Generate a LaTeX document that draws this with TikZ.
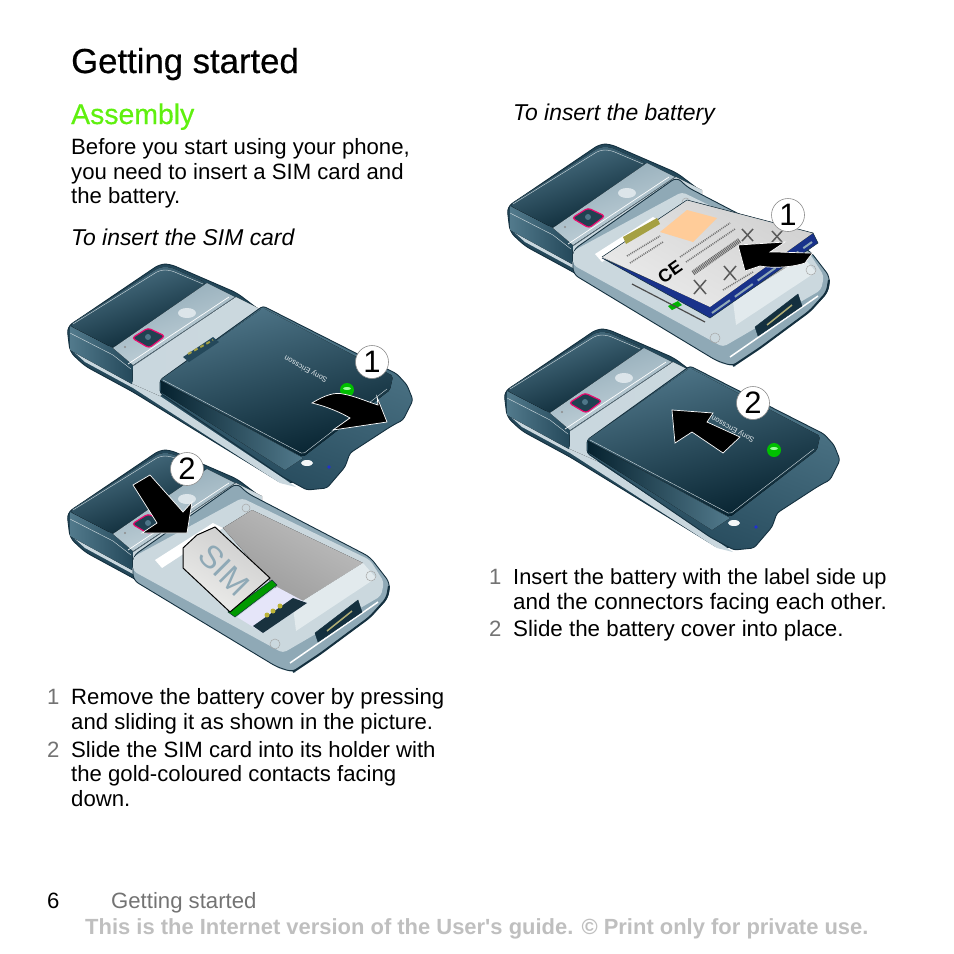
\documentclass[tikz,border=0pt]{standalone}
\usepackage{fontspec}
\setmainfont{Liberation Sans}
\newfontfamily\headfont[FakeBold=0.5]{Liberation Sans}
\newfontfamily\noticefont{Liberation Sans}
\definecolor{paneldark}{HTML}{06222F}
\definecolor{panellight}{HTML}{4F7689}
\definecolor{sidedark}{HTML}{24485A}
\definecolor{sidelight}{HTML}{527A8C}
\definecolor{edgedark}{HTML}{14303F}
\definecolor{bandlight}{HTML}{C9D7DE}
\definecolor{bandmid}{HTML}{8FA9B6}
\definecolor{traysilver}{HTML}{CBD8DE}
\definecolor{assemblygreen}{HTML}{5FF00F}
\tikzset{
  bodytext/.style={anchor=base west,inner sep=0pt,font=\fontsize{22.15}{25}\selectfont},
  steptext/.style={bodytext,text=black!55},
  howtotext/.style={bodytext,font=\fontsize{22.9}{25}\selectfont\itshape},
  numcircle/.style={circle,draw=black!45,fill=white,line width=0.6pt,inner sep=0pt,minimum size=33pt,font=\fontsize{31}{31}\selectfont},
  blackarrow/.style={fill=black,draw=white,line width=0.7pt,line join=miter},
  outline/.style={draw=edgedark,line width=0.9pt},
  stitch/.style={draw=white!75!panellight,line width=0.4pt},
}
\newcommand{\phonehead}[2]{
  \begin{scope}[shift={(#1,#2)}]
    \draw [outline,fill=sidedark,rounded corners=6pt] (67,327)--(160,264)--(170,264)--(237,293)--(262,312)--(262,360)--(305,480)--(283,484)--(133,392)--(85,366)--(70,352)--cycle;
    \fill [bandlight] (74,352)--(133,382)--(160,396)--(283,478)--(296,487)--(280,483)--(133,388)--(85,362)--cycle;
    \fill [left color=bandlight,right color=traysilver] (133,366)--(236,297)--(262,310)--(262,330)--(160,396)--(133,384)--cycle;
    \fill [left color=sidelight,right color=sidedark] (70,326)--(113,348)--(133,365)--(132,384)--(70,350)--cycle;
    \draw [stitch] (70,333)--(113,355)--(131,369);
    \fill [left color=panellight,right color=paneldark,shading angle=20,rounded corners=5pt] (69,325)--(160,267)--(170,267)--(207,283)--(113,348)--cycle;
    \draw [stitch,rounded corners=5pt] (73,324)--(160,270)--(170,270)--(203,284);
    \fill [left color=bandmid,right color=bandlight,shading angle=20] (207,283)--(235,297)--(133,365)--(113,348)--cycle;
    \draw [edgedark!70,line width=0.5pt] (235,297)--(133,366);
    \draw [white,line width=0.7pt] (229,297)--(128,364);
    \fill [white!35!bandlight] (187,313) ellipse [x radius=9,y radius=5];
    \fill [black!45] (125,347) circle [radius=1.2];
    \draw [draw=magenta!70!red,fill=sidedark!90!black,line width=1.2pt,rounded corners=3pt] (132,338)--(148,328)--(165,336)--(149,348)--cycle;
    \fill [panellight] (148,337) circle [radius=3];
  \end{scope}
}
\newcommand{\phonecover}[2]{
  \begin{scope}[shift={(#1,#2)}]
    \draw [outline,left color=sidelight,right color=sidedark,shading angle=-20,rounded corners=3pt] (263,306)--(397,374)--(407,385)--(413,400)--(403,420)--(397,423)--(390,427)--(350,453)--(345,467)--(327,488)--(307,490)--(283,477)--(160,393)--(160,380)--cycle;
    \fill [left color=panellight,right color=paneldark,shading angle=15,rounded corners=2pt] (263,308)--(393,376)--(390,390)--(303,457)--(160,380)--cycle;
    \fill [left color=paneldark,right color=sidelight] (161,381)--(303,458)--(285,470)--(161,392)--cycle;
    \draw [stitch,rounded corners=2pt] (163,380)--(303,454)--(387,389);
    \fill [white!80!bandlight] (307,463) ellipse [x radius=6,y radius=3];
    \fill [blue!60!sidelight] (329,467) circle [radius=1.8];
    \fill [green!75!black] (347,390) circle [radius=7];
    \fill [white!60!green] (347,388.5) ellipse [x radius=4,y radius=1.5];
    \node (logo#1) [rotate=151,text=white!85!panellight,inner sep=0pt,font=\fontsize{7.5}{8}\selectfont] at (306,369) {Sony Ericsson};
  \end{scope}
}
\newcommand{\phonetray}[2]{
  \begin{scope}[shift={(#1,#2)}]
    \draw [outline,fill=bandmid,rounded corners=6pt] (237,297)--(247,307)--(370,371)--(390,397)--(388,412)--(370,431)--(320,468)--(293,486)--(277,481)--(133,394)--(133,370)--cycle;
    \draw [edgedark,line width=2pt,rounded corners=5pt] (389,400)--(387,412)--(370,431)--(320,468)--(293,486);
    \fill [traysilver,rounded corners=4pt] (133,371)--(242,312)--(370,374)--(384,396)--(381,410)--(283,467)--(133,385)--cycle;
    \draw [white,line width=1.5pt] (378,416)--(290,477);
    \fill [left color=black!25,right color=black!40,shading angle=-30] (223,342)--(252,324)--(363,377)--(293,421)--cycle;
    \fill [white!45!traysilver] (293,421)--(363,377)--(376,392)--(296,445)--cycle;
    \fill [white] (155,374)--(213,337)--(223,342)--(162,382)--cycle;
    \draw [black!35,line width=0.5pt] (275,458) circle [radius=5] (371,390) circle [radius=5] (246,322) circle [radius=4];
    \draw [edgedark,fill=edgedark] (315,447)--(358,414)--(362,426)--(318,456)--cycle;
    \draw [yellow!50!black!70!white,line width=1.5pt] (327,445)--(352,425);
  \end{scope}
}
\begin{document}
\begin{tikzpicture}[x=1pt,y=-1pt]
  \useasboundingbox (0,0) rectangle (954,954);

  % page texts, left column
  \node (title) [anchor=base west,inner sep=0pt,font=\fontsize{34.7}{36}\headfont] at (71,73) {Getting started};
  \node (assembly) [anchor=base west,inner sep=0pt,text=assemblygreen,font=\fontsize{28.4}{30}\headfont] at (71,124) {Assembly};
  \node (introa) [bodytext] at (71,154) {Before you start using your phone,};
  \node (introb) [bodytext] at (71,179) {you need to insert a SIM card and};
  \node (introc) [bodytext] at (71,203) {the battery.};
  \node (howtosim) [howtotext] at (71,245) {To insert the SIM card};
  \node (numa) [steptext] at (47,704) {1};
  \node (stepaa) [bodytext] at (71,704) {Remove the battery cover by pressing};
  \node (stepab) [bodytext] at (71,729) {and sliding it as shown in the picture.};
  \node (numb) [steptext] at (47,757) {2};
  \node (stepba) [bodytext] at (71,757) {Slide the SIM card into its holder with};
  \node (stepbb) [bodytext] at (71,781) {the gold-coloured contacts facing};
  \node (stepbc) [bodytext] at (71,806) {down.};

  % page texts, right column
  \node (howtobat) [howtotext] at (513,120) {To insert the battery};
  \node (numc) [steptext] at (489,584) {1};
  \node (stepca) [bodytext,font=\fontsize{21.8}{25}\selectfont] at (513,584) {Insert the battery with the label side up};
  \node (stepcb) [bodytext,font=\fontsize{22.4}{25}\selectfont] at (513,609) {and the connectors facing each other.};
  \node (numd) [steptext] at (489,636) {2};
  \node (stepda) [bodytext,font=\fontsize{22.35}{25}\selectfont] at (513,636) {Slide the battery cover into place.};

  % footer
  \node (pagenum) [bodytext] at (47,908) {6};
  \node (footer) [steptext] at (111,908) {Getting started};
  \node (notice) [anchor=base west,inner sep=0pt,text=black!25,font=\fontsize{21.95}{24}\noticefont\bfseries] at (85,934) {This is the Internet version of the User's guide. © Print only for private use.};

  % phone with cover pulled off
  \phonehead{0}{0}
  \fill [traysilver] (213,340)--(262,310)--(262,345)--(180,380)--cycle;
  \phonecover{0}{0}
  \fill [sidedark] (183,357)--(213,337)--(219,342)--(189,362)--cycle;
  \draw [yellow!60!black,line width=2pt,dash pattern=on 4pt off 3pt] (188,354)--(213,340);
  \draw [blackarrow] (312,403).. controls (325,395) and (335,392) ..(343,394).. controls (355,396) and (368,402) ..(378,405)--(377,397)--(387,422)--(333,430)--(350,418).. controls (340,412) and (325,406) ..(312,403)--cycle;
  \node (numcirclea) [numcircle] at (372,362) {1};

  % phone with SIM card
  \phonehead{0}{186}
  \phonetray{0}{186}
  \draw [edgedark,fill=green!60!black,line width=0.5pt] (272,580)--(277,585)--(235,617)--(228,612)--cycle;
  \fill [black!25!blue!10!white] (277,587)--(307,603)--(263,633)--(237,617)--cycle;
  \fill [sidedark!70!black] (293,598)--(307,603)--(263,633)--(253,626)--cycle;
  \fill [yellow!70!black] (267,615) circle [radius=2.5] (273,611) circle [radius=2.5] (280,606) circle [radius=2.5];
  \draw [black,line width=1pt,left color=black!20,right color=yellow!10!black!8,shading angle=-30] (183,548)--(197,535)--(215,527)--(270,578)--(230,612)--(183,568)--cycle;
  \node (simlabel) [rotate=-45,text=bandmid,inner sep=0pt,font=\fontsize{32}{32}\selectfont] at (224,570) {SIM};
  \draw [blackarrow] (133,485)--(150,475)--(183,512)--(192,502)--(187,533)--(142,533)--(157,523)--cycle;
  \node (numcircleb) [numcircle] at (187,469) {2};

  % phone with battery going in
  \phonehead{440}{-120}
  \phonetray{440}{-120}
  \fill [green!70!black] (668,306)--(678,301)--(682,305)--(672,310)--cycle;
  \draw [black!70,line width=1.2pt] (632,284)--(705,322);
  \draw [edgedark,fill=sidedark!70!blue,line width=0.5pt] (602,258)--(710,318)--(818,243)--(813,233)--(710,306)--cycle;
  \draw [bandmid,line width=2pt,dash pattern=on 22pt off 6pt] (712,313)--(812,242);
  \fill [left color=black!18,right color=black!8,shading angle=-30] (602,257)--(687,200)--(813,233)--(710,307)--cycle;
  \draw [edgedark,line width=0.5pt] (602,257)--(687,200)--(813,233);
  \fill [yellow!60!black] (623,237)--(657,218)--(660,224)--(626,244)--cycle;
  \fill [orange!40!white] (660,232)--(687,210)--(717,218)--(693,242)--cycle;
  \draw [black!60,line width=5pt,dash pattern=on 1pt off 0.8pt] (693,273)--(740,240);
  \draw [black!55,line width=1.6pt,dash pattern=on 1pt off 1pt] (680,257)--(730,223) (630,263)--(663,242) (627,256)--(660,236) (723,290)--(753,272) (686,262)--(735,229);
  \draw [black!65,line width=1.5pt] (694,280)--(706,294) (706,280)--(694,294) (724,266)--(736,280) (736,266)--(724,280) (742,229)--(753,241) (753,229)--(742,241) (772,231)--(782,242) (782,231)--(772,242);
  \node (celabel) [rotate=35,inner sep=0pt,font=\fontsize{18}{18}\selectfont\bfseries] at (670,272) {CE};
  \draw [blackarrow] (738,245)--(785,242)--(770,252).. controls (785,252) and (800,253) ..(813,253).. controls (808,258) and (806,262) ..(805,263).. controls (790,268) and (770,268) ..(760,266)--(745,271)--cycle;
  \node (numcirclec) [numcircle] at (788,215) {1};

  % phone with cover on
  \phonehead{437}{65}
  \phonecover{427}{60}
  \draw [blackarrow] (672,410)--(713,413)--(707,422)--(740,437)--(723,453)--(692,432)--(675,443)--cycle;
  \node (numcircled) [numcircle] at (753,403) {2};
\end{tikzpicture}
\end{document}
